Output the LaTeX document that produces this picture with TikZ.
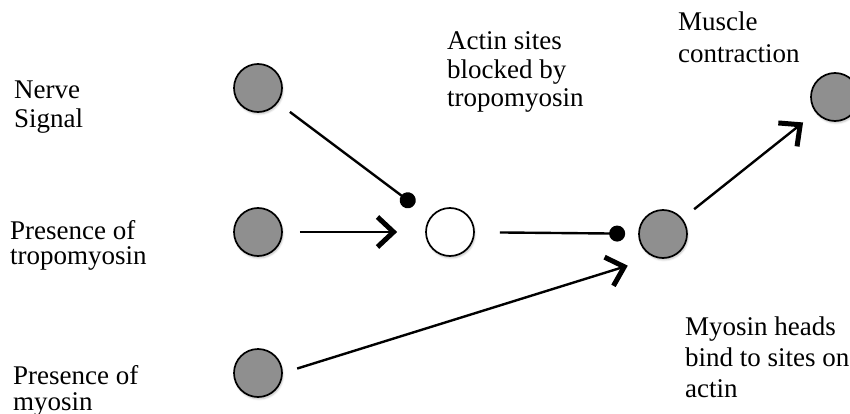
\documentclass[tikz,border=0pt]{standalone}
\usepackage{fontspec}
\setmainfont{Liberation Serif}
\usetikzlibrary{arrows.meta,shadows.blur}

\begin{document}
\begin{tikzpicture}[x=1pt,y=-1pt]
\tikzset{on/.style={circle,draw,line width=1.7pt,fill=black!44,minimum size=48pt,inner sep=0pt,
          blur shadow={shadow xshift=1pt,shadow yshift=-2pt,shadow blur steps=5,shadow opacity=25}},
   off/.style={on,fill=white},
   lbl/.style={align=left,inner sep=0pt,anchor=base west,font=\fontsize{27}{#1}\selectfont},
   lbl/.default=29,
   act/.style={line width=2.4pt,-{Straight Barb[length=16pt,width=30pt,line width=5pt,line join=miter]}},
   inh/.style={line width=2.4pt,-{Circle[length=16pt]}}};
   \useasboundingbox (0,0) rectangle (850,414);

   \node[on]  at (258,88)  (Nrv) {};
   \node[on]  at (258,232) (Tpm) {};
   \node[on]  at (258,373) (Myo) {};
   \node[off] at (450,232) (Blk) {};
   \node[on]  at (663,234) (Bnd) {};
   \node[on]  at (835,97)  (Con) {};

   % base anchor sits on the last line
   \node[lbl]      at (14,128)  (NrvL) {Nerve\\Signal};
   \node[lbl=25]   at (10,264)  (TpmL) {Presence of\\tropomyosin};
   \node[lbl=26]   at (13,410)  (MyoL) {Presence of\\myosin};
   \node[lbl=28.5] at (447,107) (BlkL) {Actin sites\\blocked by\\tropomyosin};
   \node[lbl=32]   at (678,63)  (ConL) {Muscle\\contraction};
   \node[lbl=31]   at (685,397) (BndL) {Myosin heads\\bind to sites on\\actin};

   \draw[inh,shorten <=15pt,shorten >=20pt] (Nrv) -- (Blk);
   \draw[act,shorten <=17pt,shorten >=28pt] (Tpm) -- (Blk);
   \draw[inh,shorten <=25pt,shorten >=13pt] (Blk) -- (Bnd);
   \draw[act,shorten <=15pt,shorten >=28pt] (Myo.east) -- (Bnd.250);
   \draw[act,shorten <=15pt,shorten >=16pt] (Bnd) -- (Con);
\end{tikzpicture}
\end{document}
